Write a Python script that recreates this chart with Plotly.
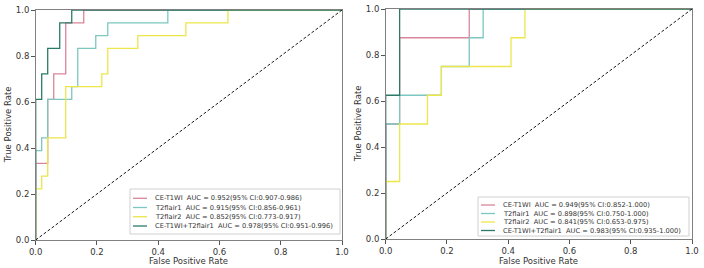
import plotly.graph_objects as go

# ---- data (left panel: 18 positives, 51 negatives) ----
N1 = 51.0
left_names = ["CE-T1WI\u00a0\u00a0AUC = 0.952(95% CI:0.907-0.986)",
              "T2flair1\u00a0\u00a0AUC = 0.915(95% CI:0.856-0.961)",
              "T2flair2\u00a0\u00a0AUC = 0.852(95% CI:0.773-0.917)",
              "CE-T1WI+T2flair1\u00a0\u00a0AUC = 0.978(95% CI:0.951-0.996)"]
left_fpr_counts = [
    [0, 0, 2, 2, 3, 3, 5, 5, 8, 8, 51],
    [0, 0, 1, 1, 2, 2, 6, 6, 7, 7, 10, 10, 12, 12, 22, 22, 51],
    [0, 0, 1, 1, 2, 2, 5, 5, 11, 11, 12, 12, 17, 17, 25, 25, 32, 32, 51],
    [0, 0, 1, 1, 2, 2, 4, 4, 6, 6, 51],
]
left_tpr = [
    [0, 0.333, 0.333, 0.611, 0.611, 0.722, 0.722, 0.944, 0.944, 1.0, 1.0],
    [0, 0.389, 0.389, 0.444, 0.444, 0.611, 0.611, 0.667, 0.667, 0.833, 0.833, 0.889, 0.889, 0.944, 0.944, 1.0, 1.0],
    [0, 0.222, 0.222, 0.278, 0.278, 0.444, 0.444, 0.667, 0.667, 0.722, 0.722, 0.833, 0.833, 0.889, 0.889, 0.944, 0.944, 1.0, 1.0],
    [0, 0.611, 0.611, 0.722, 0.722, 0.833, 0.833, 0.944, 0.944, 1.0, 1.0],
]

# ---- data (right panel: 8 positives, 22 negatives) ----
N2 = 22.0
right_names = ["CE-T1WI\u00a0\u00a0AUC = 0.949(95% CI:0.852-1.000)",
               "T2flair1\u00a0\u00a0AUC = 0.898(95% CI:0.750-1.000)",
               "T2flair2\u00a0\u00a0AUC = 0.841(95% CI:0.653-0.975)",
               "CE-T1WI+T2flair1\u00a0\u00a0AUC = 0.983(95% CI:0.935-1.000)"]
right_fpr_counts = [
    [0, 0, 1, 1, 6, 6, 22],
    [0, 0, 1, 1, 4, 4, 6, 6, 7, 7, 22],
    [0, 0, 1, 1, 3, 3, 4, 4, 9, 9, 10, 10, 22],
    [0, 0, 1, 1, 22],
]
right_tpr = [
    [0, 0.5, 0.5, 0.875, 0.875, 1.0, 1.0],
    [0, 0.5, 0.5, 0.625, 0.625, 0.75, 0.75, 0.875, 0.875, 1.0, 1.0],
    [0, 0.25, 0.25, 0.5, 0.5, 0.625, 0.625, 0.75, 0.75, 0.875, 0.875, 1.0, 1.0],
    [0, 0.625, 0.625, 1.0, 1.0],
]

colors = ["#d9869a", "#7cc7c0", "#ece64c", "#2b7a68"]
tick_vals = [0.0, 0.2, 0.4, 0.6, 0.8, 1.0]
tick_text = ["0.0", "0.2", "0.4", "0.6", "0.8", "1.0"]
x_title = "False Positive Rate"
y_title = "True Positive Rate"

W, H = 704, 268


def px(x):
    return x / W


def py(y):
    return 1 - y / H


fig = go.Figure()

panels = [
    # names, fpr counts, tpr, n, xaxis, yaxis, plot box (l, r, t, b), legend box (l, r, t, b), row ys
    (left_names, left_fpr_counts, left_tpr, N1, "x", "y", (35.7, 342, 10, 240),
     (130, 340, 189, 234), [198.3, 207.5, 216.7, 226]),
    (right_names, right_fpr_counts, right_tpr, N2, "x2", "y2", (385.7, 692, 9, 239),
     (478, 689, 197, 236), [205, 213.5, 222, 230.5]),
]

shapes = []
annotations = []
for names, fprc, tprs, n, xa, ya, box, lbox, rows in panels:
    for name, fc, tp, col in zip(names, fprc, tprs, colors):
        fig.add_trace(go.Scatter(x=[c / n for c in fc], y=tp, mode="lines", name=name,
                                 showlegend=False, hoverinfo="skip",
                                 line=dict(color=col, width=1.3), xaxis=xa, yaxis=ya))
    fig.add_trace(go.Scatter(x=[0, 1], y=[0, 1], mode="lines", showlegend=False, hoverinfo="skip",
                             line=dict(color="black", width=0.9, dash="3px,2px"),
                             xaxis=xa, yaxis=ya))
    l, r, t, b = box
    # axis titles
    annotations.append(dict(text=x_title, x=px((l + r) / 2), y=py(261), xref="paper", yref="paper",
                            showarrow=False, xanchor="center", yanchor="middle",
                            font=dict(size=8.5, color="#333333")))
    annotations.append(dict(text=y_title, x=px(l - 27.5), y=py((t + b) / 2), xref="paper", yref="paper",
                            showarrow=False, xanchor="center", yanchor="middle", textangle=-90,
                            font=dict(size=8.5, color="#333333")))
    # legend box
    ll, lr, lt, lb = lbox
    shapes.append(dict(type="rect", xref="paper", yref="paper", x0=px(ll), x1=px(lr), y0=py(lb), y1=py(lt),
                       line=dict(color="#d0d0d0", width=1), fillcolor="rgba(255,255,255,0.9)", layer="above"))
    for name, col, ry in zip(names, colors, rows):
        shapes.append(dict(type="line", xref="paper", yref="paper", x0=px(ll + 3), x1=px(ll + 17),
                           y0=py(ry), y1=py(ry), line=dict(color=col, width=1.3), layer="above"))
        annotations.append(dict(text=name, x=px(ll + 23), y=py(ry), xref="paper", yref="paper",
                                showarrow=False, xanchor="left", yanchor="middle",
                                font=dict(size=6.7, color="#333333")))

axis_common = dict(range=[0, 1], tickvals=tick_vals, ticktext=tick_text, showgrid=False,
                   zeroline=False, showline=True, mirror=True, linecolor="#808080",
                   linewidth=1.2, ticks="outside", ticklen=3.5, tickcolor="#555555",
                   tickfont=dict(size=8.5, color="#333333"), automargin=False, fixedrange=True)

fig.update_layout(
    width=W, height=H, margin=dict(l=0, r=0, t=0, b=0),
    paper_bgcolor="white", plot_bgcolor="white",
    font=dict(family="DejaVu Sans", color="#333333"),
    showlegend=False, hovermode=False,
    xaxis=dict(domain=[px(35.7), px(342)], anchor="y", **axis_common),
    yaxis=dict(domain=[py(240), py(10)], anchor="x", **axis_common),
    xaxis2=dict(domain=[px(385.7), px(692)], anchor="y2", **axis_common),
    yaxis2=dict(domain=[py(239), py(9)], anchor="x2", **axis_common),
    shapes=shapes,
    annotations=annotations,
)

fig.write_html("out.html", config={"displayModeBar": False},
               post_script="document.body.style.margin='0';document.body.style.overflow='hidden';")
